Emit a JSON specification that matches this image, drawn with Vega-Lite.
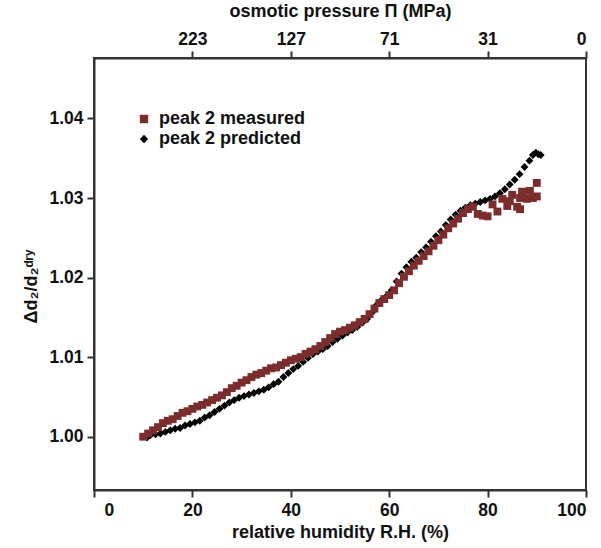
{
  "$schema": "https://vega.github.io/schema/vega-lite/v6.json",
  "autosize": {"type": "none"},
  "width": 492,
  "height": 432,
  "padding": {"left": 94, "top": 58, "right": 15, "bottom": 58},
  "background": "white",
  "config": {
    "font": "Liberation Sans",
    "view": {"stroke": "#333333", "strokeWidth": 2},
    "axis": {
      "grid": false,
      "domainColor": "#333333",
      "domainWidth": 2,
      "tickColor": "#333333",
      "tickWidth": 2,
      "tickSize": 7,
      "labelFont": "Liberation Sans",
      "labelFontSize": 17.5,
      "labelFontWeight": "bold",
      "labelColor": "#111111",
      "titleFont": "Liberation Sans",
      "titleFontSize": 18,
      "titleFontWeight": "bold",
      "titleColor": "#111111"
    },
    "legend": {
      "labelFont": "Liberation Sans",
      "labelFontSize": 18,
      "labelFontWeight": "bold",
      "labelColor": "#111111"
    }
  },
  "datasets": {
    "pts": [
      {"rh": 10.8, "v": 0.9999, "series": "peak 2 predicted"},
      {"rh": 11.5, "v": 1.0002, "series": "peak 2 predicted"},
      {"rh": 12.5, "v": 1.0003, "series": "peak 2 predicted"},
      {"rh": 13.5, "v": 1.0004, "series": "peak 2 predicted"},
      {"rh": 14.5, "v": 1.0006, "series": "peak 2 predicted"},
      {"rh": 15.5, "v": 1.0008, "series": "peak 2 predicted"},
      {"rh": 16.5, "v": 1.001, "series": "peak 2 predicted"},
      {"rh": 17.5, "v": 1.0011, "series": "peak 2 predicted"},
      {"rh": 18.5, "v": 1.0014, "series": "peak 2 predicted"},
      {"rh": 19.5, "v": 1.0016, "series": "peak 2 predicted"},
      {"rh": 20.5, "v": 1.0018, "series": "peak 2 predicted"},
      {"rh": 21.5, "v": 1.002, "series": "peak 2 predicted"},
      {"rh": 22.5, "v": 1.0024, "series": "peak 2 predicted"},
      {"rh": 23.5, "v": 1.0027, "series": "peak 2 predicted"},
      {"rh": 24.5, "v": 1.0031, "series": "peak 2 predicted"},
      {"rh": 25.5, "v": 1.0035, "series": "peak 2 predicted"},
      {"rh": 26.5, "v": 1.0039, "series": "peak 2 predicted"},
      {"rh": 27.5, "v": 1.0043, "series": "peak 2 predicted"},
      {"rh": 28.5, "v": 1.0046, "series": "peak 2 predicted"},
      {"rh": 29.5, "v": 1.0049, "series": "peak 2 predicted"},
      {"rh": 30.5, "v": 1.0051, "series": "peak 2 predicted"},
      {"rh": 31.5, "v": 1.0053, "series": "peak 2 predicted"},
      {"rh": 32.5, "v": 1.0055, "series": "peak 2 predicted"},
      {"rh": 33.5, "v": 1.0057, "series": "peak 2 predicted"},
      {"rh": 34.5, "v": 1.0059, "series": "peak 2 predicted"},
      {"rh": 35.5, "v": 1.0062, "series": "peak 2 predicted"},
      {"rh": 36.5, "v": 1.0066, "series": "peak 2 predicted"},
      {"rh": 37.5, "v": 1.0069, "series": "peak 2 predicted"},
      {"rh": 38.5, "v": 1.0075, "series": "peak 2 predicted"},
      {"rh": 39.5, "v": 1.008, "series": "peak 2 predicted"},
      {"rh": 40.5, "v": 1.0085, "series": "peak 2 predicted"},
      {"rh": 41.5, "v": 1.0089, "series": "peak 2 predicted"},
      {"rh": 42.5, "v": 1.0094, "series": "peak 2 predicted"},
      {"rh": 43.5, "v": 1.0099, "series": "peak 2 predicted"},
      {"rh": 44.5, "v": 1.0104, "series": "peak 2 predicted"},
      {"rh": 45.5, "v": 1.0107, "series": "peak 2 predicted"},
      {"rh": 46.5, "v": 1.011, "series": "peak 2 predicted"},
      {"rh": 47.5, "v": 1.0114, "series": "peak 2 predicted"},
      {"rh": 48.5, "v": 1.0119, "series": "peak 2 predicted"},
      {"rh": 49.5, "v": 1.0123, "series": "peak 2 predicted"},
      {"rh": 50.5, "v": 1.0127, "series": "peak 2 predicted"},
      {"rh": 51.5, "v": 1.0131, "series": "peak 2 predicted"},
      {"rh": 52.5, "v": 1.0134, "series": "peak 2 predicted"},
      {"rh": 53.5, "v": 1.0138, "series": "peak 2 predicted"},
      {"rh": 54.5, "v": 1.0143, "series": "peak 2 predicted"},
      {"rh": 55.5, "v": 1.0148, "series": "peak 2 predicted"},
      {"rh": 56.5, "v": 1.0156, "series": "peak 2 predicted"},
      {"rh": 57.5, "v": 1.0166, "series": "peak 2 predicted"},
      {"rh": 58.5, "v": 1.0172, "series": "peak 2 predicted"},
      {"rh": 59.5, "v": 1.0177, "series": "peak 2 predicted"},
      {"rh": 60.5, "v": 1.0184, "series": "peak 2 predicted"},
      {"rh": 61.5, "v": 1.0195, "series": "peak 2 predicted"},
      {"rh": 62.5, "v": 1.0205, "series": "peak 2 predicted"},
      {"rh": 63.5, "v": 1.0213, "series": "peak 2 predicted"},
      {"rh": 64.5, "v": 1.022, "series": "peak 2 predicted"},
      {"rh": 65.5, "v": 1.0225, "series": "peak 2 predicted"},
      {"rh": 66.5, "v": 1.0232, "series": "peak 2 predicted"},
      {"rh": 67.5, "v": 1.0238, "series": "peak 2 predicted"},
      {"rh": 68.5, "v": 1.0245, "series": "peak 2 predicted"},
      {"rh": 69.5, "v": 1.0252, "series": "peak 2 predicted"},
      {"rh": 70.5, "v": 1.0258, "series": "peak 2 predicted"},
      {"rh": 71.5, "v": 1.0266, "series": "peak 2 predicted"},
      {"rh": 72.5, "v": 1.0273, "series": "peak 2 predicted"},
      {"rh": 73.5, "v": 1.0279, "series": "peak 2 predicted"},
      {"rh": 74.5, "v": 1.0284, "series": "peak 2 predicted"},
      {"rh": 75.5, "v": 1.0288, "series": "peak 2 predicted"},
      {"rh": 76.5, "v": 1.0291, "series": "peak 2 predicted"},
      {"rh": 77.5, "v": 1.0293, "series": "peak 2 predicted"},
      {"rh": 78.5, "v": 1.0295, "series": "peak 2 predicted"},
      {"rh": 79.5, "v": 1.0297, "series": "peak 2 predicted"},
      {"rh": 80.5, "v": 1.0299, "series": "peak 2 predicted"},
      {"rh": 81.5, "v": 1.0302, "series": "peak 2 predicted"},
      {"rh": 82.5, "v": 1.0306, "series": "peak 2 predicted"},
      {"rh": 83.5, "v": 1.0311, "series": "peak 2 predicted"},
      {"rh": 84.5, "v": 1.0317, "series": "peak 2 predicted"},
      {"rh": 85.5, "v": 1.0323, "series": "peak 2 predicted"},
      {"rh": 86.5, "v": 1.033, "series": "peak 2 predicted"},
      {"rh": 87.5, "v": 1.0339, "series": "peak 2 predicted"},
      {"rh": 88.5, "v": 1.0347, "series": "peak 2 predicted"},
      {"rh": 89.2, "v": 1.0354, "series": "peak 2 predicted"},
      {"rh": 89.8, "v": 1.0357, "series": "peak 2 predicted"},
      {"rh": 90.3, "v": 1.0355, "series": "peak 2 predicted"},
      {"rh": 90.8, "v": 1.0354, "series": "peak 2 predicted"},
      {"rh": 10.0, "v": 1.0, "series": "peak 2 measured"},
      {"rh": 11.0, "v": 1.0004, "series": "peak 2 measured"},
      {"rh": 12.0, "v": 1.0008, "series": "peak 2 measured"},
      {"rh": 13.0, "v": 1.0012, "series": "peak 2 measured"},
      {"rh": 14.0, "v": 1.0017, "series": "peak 2 measured"},
      {"rh": 15.0, "v": 1.002, "series": "peak 2 measured"},
      {"rh": 16.0, "v": 1.0022, "series": "peak 2 measured"},
      {"rh": 17.0, "v": 1.0026, "series": "peak 2 measured"},
      {"rh": 18.0, "v": 1.003, "series": "peak 2 measured"},
      {"rh": 19.0, "v": 1.0032, "series": "peak 2 measured"},
      {"rh": 20.0, "v": 1.0035, "series": "peak 2 measured"},
      {"rh": 21.0, "v": 1.0038, "series": "peak 2 measured"},
      {"rh": 22.0, "v": 1.004, "series": "peak 2 measured"},
      {"rh": 23.0, "v": 1.0043, "series": "peak 2 measured"},
      {"rh": 24.0, "v": 1.0046, "series": "peak 2 measured"},
      {"rh": 25.0, "v": 1.0049, "series": "peak 2 measured"},
      {"rh": 26.0, "v": 1.0052, "series": "peak 2 measured"},
      {"rh": 27.0, "v": 1.0056, "series": "peak 2 measured"},
      {"rh": 28.0, "v": 1.0061, "series": "peak 2 measured"},
      {"rh": 29.0, "v": 1.0064, "series": "peak 2 measured"},
      {"rh": 30.0, "v": 1.0068, "series": "peak 2 measured"},
      {"rh": 31.0, "v": 1.0071, "series": "peak 2 measured"},
      {"rh": 32.0, "v": 1.0075, "series": "peak 2 measured"},
      {"rh": 33.0, "v": 1.0078, "series": "peak 2 measured"},
      {"rh": 34.0, "v": 1.008, "series": "peak 2 measured"},
      {"rh": 35.0, "v": 1.0083, "series": "peak 2 measured"},
      {"rh": 36.0, "v": 1.0086, "series": "peak 2 measured"},
      {"rh": 37.0, "v": 1.0087, "series": "peak 2 measured"},
      {"rh": 38.0, "v": 1.009, "series": "peak 2 measured"},
      {"rh": 39.0, "v": 1.0093, "series": "peak 2 measured"},
      {"rh": 40.0, "v": 1.0096, "series": "peak 2 measured"},
      {"rh": 41.0, "v": 1.0098, "series": "peak 2 measured"},
      {"rh": 42.0, "v": 1.01, "series": "peak 2 measured"},
      {"rh": 43.0, "v": 1.0104, "series": "peak 2 measured"},
      {"rh": 44.0, "v": 1.0107, "series": "peak 2 measured"},
      {"rh": 45.0, "v": 1.011, "series": "peak 2 measured"},
      {"rh": 46.0, "v": 1.0114, "series": "peak 2 measured"},
      {"rh": 47.0, "v": 1.0119, "series": "peak 2 measured"},
      {"rh": 48.0, "v": 1.0124, "series": "peak 2 measured"},
      {"rh": 49.0, "v": 1.0129, "series": "peak 2 measured"},
      {"rh": 50.0, "v": 1.0132, "series": "peak 2 measured"},
      {"rh": 51.0, "v": 1.0134, "series": "peak 2 measured"},
      {"rh": 52.0, "v": 1.0137, "series": "peak 2 measured"},
      {"rh": 53.0, "v": 1.014, "series": "peak 2 measured"},
      {"rh": 54.0, "v": 1.0144, "series": "peak 2 measured"},
      {"rh": 55.0, "v": 1.0148, "series": "peak 2 measured"},
      {"rh": 56.0, "v": 1.0154, "series": "peak 2 measured"},
      {"rh": 57.0, "v": 1.0161, "series": "peak 2 measured"},
      {"rh": 58.0, "v": 1.0168, "series": "peak 2 measured"},
      {"rh": 59.0, "v": 1.0173, "series": "peak 2 measured"},
      {"rh": 60.0, "v": 1.0178, "series": "peak 2 measured"},
      {"rh": 61.0, "v": 1.0184, "series": "peak 2 measured"},
      {"rh": 62.0, "v": 1.0193, "series": "peak 2 measured"},
      {"rh": 63.0, "v": 1.0201, "series": "peak 2 measured"},
      {"rh": 64.0, "v": 1.0208, "series": "peak 2 measured"},
      {"rh": 65.0, "v": 1.0215, "series": "peak 2 measured"},
      {"rh": 66.0, "v": 1.0221, "series": "peak 2 measured"},
      {"rh": 67.0, "v": 1.0227, "series": "peak 2 measured"},
      {"rh": 68.0, "v": 1.0233, "series": "peak 2 measured"},
      {"rh": 69.0, "v": 1.024, "series": "peak 2 measured"},
      {"rh": 70.0, "v": 1.0247, "series": "peak 2 measured"},
      {"rh": 71.0, "v": 1.0254, "series": "peak 2 measured"},
      {"rh": 72.0, "v": 1.0262, "series": "peak 2 measured"},
      {"rh": 73.0, "v": 1.0268, "series": "peak 2 measured"},
      {"rh": 74.0, "v": 1.0274, "series": "peak 2 measured"},
      {"rh": 75.0, "v": 1.0281, "series": "peak 2 measured"},
      {"rh": 76.0, "v": 1.0286, "series": "peak 2 measured"},
      {"rh": 77.0, "v": 1.0289, "series": "peak 2 measured"},
      {"rh": 78.0, "v": 1.028, "series": "peak 2 measured"},
      {"rh": 79.0, "v": 1.0278, "series": "peak 2 measured"},
      {"rh": 80.0, "v": 1.0277, "series": "peak 2 measured"},
      {"rh": 81.0, "v": 1.0292, "series": "peak 2 measured"},
      {"rh": 82.0, "v": 1.0283, "series": "peak 2 measured"},
      {"rh": 83.0, "v": 1.0299, "series": "peak 2 measured"},
      {"rh": 84.0, "v": 1.029, "series": "peak 2 measured"},
      {"rh": 84.5, "v": 1.0296, "series": "peak 2 measured"},
      {"rh": 85.0, "v": 1.0304, "series": "peak 2 measured"},
      {"rh": 86.0, "v": 1.0289, "series": "peak 2 measured"},
      {"rh": 86.6, "v": 1.03, "series": "peak 2 measured"},
      {"rh": 86.6, "v": 1.0286, "series": "peak 2 measured"},
      {"rh": 87.0, "v": 1.0308, "series": "peak 2 measured"},
      {"rh": 88.0, "v": 1.0299, "series": "peak 2 measured"},
      {"rh": 88.6, "v": 1.0309, "series": "peak 2 measured"},
      {"rh": 89.2, "v": 1.03, "series": "peak 2 measured"},
      {"rh": 90.0, "v": 1.0319, "series": "peak 2 measured"},
      {"rh": 90.0, "v": 1.0302, "series": "peak 2 measured"}
    ]
  },
  "layer": [
    {
      "data": {"name": "pts"},
      "mark": {"type": "point", "filled": true, "opacity": 1, "size": 62},
      "encoding": {
        "x": {
          "field": "rh", "type": "quantitative",
          "scale": {"domain": [0, 100], "nice": false, "zero": false},
          "axis": {
            "orient": "bottom",
            "values": [0, 20, 40, 60, 80, 100],
            "title": "relative humidity R.H. (%)",
            "labelPadding": 4,
            "titlePadding": 5,
            "labelOffset": {"condition": {"test": "datum.value == 0", "value": 10}, "value": 0}
          }
        },
        "y": {
          "field": "v", "type": "quantitative",
          "scale": {"domain": [0.9933, 1.0476], "nice": false, "zero": false},
          "axis": {
            "values": [1.0, 1.01, 1.02, 1.03, 1.04],
            "format": ".2f",
            "title": "Δd₂/d₂ᵈʳʸ",
            "labelPadding": 4,
            "titlePadding": 8,
            "titleY": 228
          }
        },
        "color": {
          "field": "series", "type": "nominal",
          "scale": {"domain": ["peak 2 measured", "peak 2 predicted"], "range": ["#7b2d2d", "#000000"]},
          "legend": {"title": null, "orient": "none", "legendX": 41, "legendY": 52, "rowPadding": 2, "symbolSize": 70, "labelOffset": 6}
        },
        "shape": {
          "field": "series", "type": "nominal",
          "scale": {"domain": ["peak 2 measured", "peak 2 predicted"], "range": ["square", "diamond"]},
          "legend": {"title": null, "orient": "none", "legendX": 41, "legendY": 52}
        }
      }
    },
    {
      "data": {"name": "pts"},
      "mark": {"type": "point", "opacity": 0},
      "encoding": {
        "x": {
          "field": "rh", "type": "quantitative",
          "axis": {
            "orient": "top",
            "values": [20, 40, 60, 80, 100],
            "labelExpr": "datum.value == 20 ? '223' : datum.value == 40 ? '127' : datum.value == 60 ? '71' : datum.value == 80 ? '31' : '0'",
            "title": "osmotic pressure Π (MPa)",
            "labelPadding": 3,
            "titlePadding": 10
          }
        }
      }
    }
  ],
  "resolve": {"axis": {"x": "independent"}}
}
